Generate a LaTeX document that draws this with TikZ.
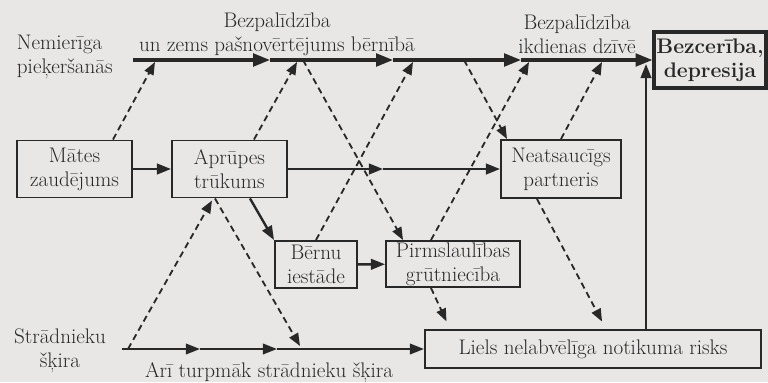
\documentclass[tikz,border=0pt]{standalone}
\usetikzlibrary{arrows.meta,calc}
\definecolor{paper}{RGB}{232,231,229}
\definecolor{ink}{RGB}{40,40,40}
\newcommand\lblsize{\fontsize{15}{17}\selectfont}
\begin{document}
\begin{tikzpicture}[x=0.025cm, y=-0.025cm, font=\lblsize, color=ink,
  box/.style={draw, line width=1.4pt, align=center, inner sep=0pt},
  topline/.style={line width=2.2pt, -{Triangle[length=12pt,width=9pt]}},
  midline/.style={line width=1.7pt, -{Triangle[length=10pt,width=7.5pt]}},
  lowline/.style={line width=1.4pt, -{Triangle[length=10pt,width=7.5pt]}},
  dashline/.style={line width=1.3pt, dash pattern=on 4.5pt off 3pt, -{Triangle[length=9pt,width=7pt]}}]
\useasboundingbox (0,0) rectangle (768,382);
\fill[paper] (0,0) rectangle (768,382);

% Boxes
\node [box, minimum width=2.875cm, minimum height=1.425cm] (mates) at (74.5,169) {Mātes\\zaudējums};
\node [box, minimum width=2.875cm, minimum height=1.425cm] (aprupes) at (229.5,169) {Aprūpes\\trūkums};
\node [box, minimum width=3cm, minimum height=1.45cm] (neats) at (561,169) {Neatsaucīgs\\partneris};
\node [box, minimum width=2.05cm, minimum height=1.175cm] (bernu) at (316,264.5) {Bērnu\\iestāde};
\node [box, minimum width=3.35cm, minimum height=1.15cm] (pirms) at (453,264) {Pirmslaulības\\grūtniecība};
\node [box, minimum width=8.4cm, minimum height=0.95cm] (liels) at (593,349) {Liels nelabvēlīga notikuma risks};
\node [box, line width=2.2pt, minimum width=2.8cm, minimum height=1.4cm, font=\lblsize\bfseries] (bezc) at (710,60) {Bezcerība,\\depresija};

% Labels
\node [anchor=west, align=left] (nemier) at (12,57) {Nemierīga\\pieķeršanās};
\node [align=center] (bezpA) at (277,34) {Bezpalīdzība\\un zems pašnovērtējums bērnībā};
\node [align=center] (bezpB) at (577,34) {Bezpalīdzība\\ikdienas dzīvē};
\node [align=center] (strad) at (60,351) {Strādnieku\\šķira};
\node (turpm) at (269,373) {Arī turpmāk strādnieku šķira};

% Top line
\coordinate (t0) at (133,60);
\coordinate (t1) at (270,60);
\coordinate (t2) at (393,60);
\coordinate (t3) at (521,60);
\draw [topline] (t0) -- (t1);
\draw [topline] (t1) -- (t2);
\draw [topline] (t2) -- (t3);
\draw [topline] (t3) -- (bezc.west);

% Points on the top line
\coordinate (u1) at (155,62);
\coordinate (u2) at (297,62);
\coordinate (s3) at (303,60);
\coordinate (u4) at (413,62);
\coordinate (s5) at (464,60);
\coordinate (u6) at (529,62);
\coordinate (u7) at (602,62);
\coordinate (v8) at (646,64);

% Middle line
\coordinate (m1) at (383,169);
\draw [midline] (mates) -- (aprupes);
\draw [midline] (aprupes) -- (m1);
\draw [midline] (m1) -- (neats);
\draw [midline] ($(aprupes.south)+(20.5,0)$) -- (bernu.north west);
\draw [midline] (bernu) -- (pirms);

% Bottom line
\coordinate (b0) at (122,349);
\coordinate (b1) at (200,349);
\coordinate (b2) at (277,349);
\coordinate (b3) at (300,346);
\draw [lowline] (b0) -- (b1);
\draw [lowline] (b1) -- (b2);
\draw [lowline] (b2) -- (liels.west |- b2);

% Dashed links
\draw [dashline] ($(mates.north)+(38.5,0)$) -- (u1);
\draw [dashline] ($(aprupes.north)+(24.5,0)$) -- (u2);
\draw [dashline] (s3) -- ($(pirms.north)+(-50,0)$);
\draw [dashline] (bernu.north) -- (u4);
\draw [dashline] (s5) -- ($(neats.north)+(-54,0)$);
\draw [dashline] ($(pirms.north)+(-22,0)$) -- (u6);
\draw [dashline] (neats.north) -- (u7);
\draw [dashline] ($(b0)+(6,0)$) -- ($(aprupes.south)+(-17.5,2)$);
\draw [dashline] ($(aprupes.south)+(-14.5,0)$) -- (b3);
\draw [dashline, shorten >=6pt] ($(pirms.south)+(-22,0)$) -- ($(liels.north)+(-143,0)$);
\draw [dashline, shorten >=6pt] ($(neats.south)+(-24,0)$) -- ($(liels.north)+(13,0)$);

% Vertical link
\draw [midline] (liels.north -| v8) -- (v8);
\end{tikzpicture}
\end{document}
